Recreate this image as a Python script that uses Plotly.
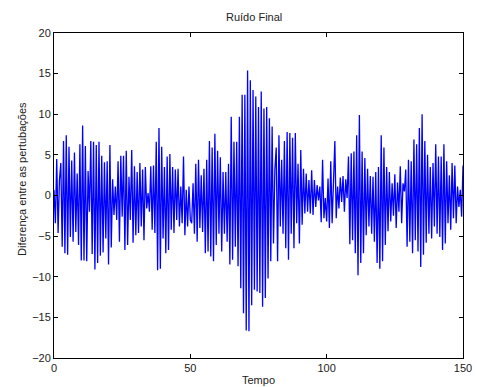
import numpy as np
import plotly.graph_objects as go

# Sampled noise difference, step 0.5 in "Tempo" (t = 0 ... 150)
dt = 0.5
seg_000_025 = [0.7, -3.4, 4.5, -4.6, 1.9, 4.0, -6.3, 6.7, -7.1, 7.4,
               -7.3, 6.0, -5.1, 4.3, -5.7, 5.3, -4.5, 2.7, -6.1, 6.3,
               -8.0, 8.6, -8.0, 6.1, -8.1, 3.0, -2.0, 6.7, -7.2, 6.6,
               -9.1, 6.2, -8.3, 6.6, -7.4, 4.9, -7.0, 4.1, -5.3, 4.2,
               -8.5, 6.2, -6.4, 2.0, -2.4, 1.1, -3.0, 4.2, -5.7, 4.9, -2.6]
seg_025_050 = [4.9, -6.7, 5.5, -6.1, 2.3, -3.0, 5.6, -5.8, 3.6, -4.9,
               2.9, -4.6, 4.0, -3.8, 3.2, -5.5, 3.5, -1.6, 0.3, -2.0,
               3.6, -4.2, 3.7, -4.6, 6.6, -9.2, 8.3, -9.0, 6.0, -5.3,
               3.5, -7.1, 4.8, -6.7, 5.1, -4.2, 3.5, -4.6, 3.2, -3.0,
               3.3, -3.8, 1.1, -3.4, 4.8, -4.9, 0.7, -3.8, 1.1, -3.0]
seg_050_075 = [-3.4, 1.5, -4.7, 3.9, -5.7, 4.4, -4.0, 2.5, -4.5, 3.3,
               -7.1, 4.4, -6.9, 6.7, -7.5, 5.9, -8.1, 7.6, -6.1, 5.5,
               -4.7, 4.7, -6.9, 2.9, -4.7, 2.9, -5.7, 3.9, -8.5, 9.7,
               -7.9, 6.6, -6.3, 6.6, -8.7, 9.7, -11.4, 12.4, -14.5, 12.4,
               -16.6, 15.4, -16.7, 14.2, -13.5, 13.0, -11.6, 12.2, -11.8, 10.9]
seg_075_100 = [-12.0, 12.8, -13.7, 10.7, -12.6, 10.9, -10.2, 9.5, -8.1, 8.5,
               -5.9, 3.1, 5.9, -8.1, 7.4, -3.8, 4.4, -4.7, 6.7, -6.5,
               7.8, -7.9, 7.7, -4.7, 7.1, -6.5, 7.7, -3.4, 3.9, -5.9,
               5.6, -3.6, 3.3, -2.2, 2.7, -2.0, 1.9, -2.2, 3.1, -2.4,
               1.9, -1.4, 1.3, -0.6, 1.1, -3.3, 4.4, -2.8, -0.3, -3.2]
seg_100_125 = [2.1, -4.0, 4.2, -3.4, 2.5, 6.7, -2.8, 1.1, -1.6, 2.2,
               -0.8, 2.4, -2.0, 2.0, -0.3, 4.8, -6.0, 5.2, -5.5, 5.4,
               -7.1, 7.4, -9.8, 9.9, -8.3, 5.4, -7.1, 4.6, -4.9, 3.3,
               -3.8, 2.4, -4.7, 2.3, -5.7, 2.9, -8.3, 3.5, -9.0, 7.4,
               -8.1, 5.9, -6.1, 3.5, -4.4, 2.9, -3.2, 1.5, -2.5, 2.6]
seg_125_150 = [-4.0, 1.6, -2.0, 3.6, -3.4, 1.5, 0.5, 3.2, -6.3, 4.4,
               -5.7, 4.2, -7.1, 6.9, -5.5, 6.3, -6.9, 8.3, -8.8, 10.0,
               -7.3, 6.7, -5.8, 5.0, -4.7, 3.5, -5.3, 4.0, -3.8, 6.3,
               -4.7, 4.8, -5.1, 4.8, -6.7, 6.3, -5.9, 4.2, -3.4, 2.5,
               -4.2, 4.0, -2.8, 3.7, -3.4, 1.1, -1.4, 0.7, -2.6, 3.7]

ruido = (seg_000_025 + seg_025_050 + seg_050_075 +
         seg_075_100 + seg_100_125 + seg_125_150)
tempo = np.arange(len(ruido)) * dt

x_ticks = [0, 50, 100, 150]
y_ticks = [-20, -15, -10, -5, 0, 5, 10, 15, 20]

fig = go.Figure()
fig.add_trace(go.Scatter(x=tempo, y=ruido, mode="lines",
                         line=dict(color="#0000FF", width=1.3),
                         showlegend=False))

axis_common = dict(showgrid=False, zeroline=False, showline=True,
                   linecolor="black", linewidth=1, mirror="ticks",
                   ticks="inside", ticklen=4, tickcolor="black",
                   automargin=False,
                   tickfont=dict(family="Liberation Sans, Arial", size=11, color="#222"))

fig.update_xaxes(range=[0, 150], tickvals=x_ticks, **axis_common)
fig.update_yaxes(range=[-20, 20], tickvals=y_ticks, **axis_common)

fig.update_layout(
    width=477, height=387, autosize=False,
    margin=dict(l=54, r=14, t=33, b=29, autoexpand=False),
    paper_bgcolor="white", plot_bgcolor="white",
    font=dict(family="Liberation Sans, Arial", size=11, color="#222"),
    annotations=[
        dict(text="Ruído Final", x=0.489, y=1, xref="paper", yref="paper",
             yshift=16, showarrow=False, xanchor="center", yanchor="middle",
             font=dict(size=11)),
        dict(text="Tempo", x=0.499, y=0, xref="paper", yref="paper",
             yshift=-22, showarrow=False, xanchor="center", yanchor="middle",
             font=dict(size=11)),
        dict(text="Diferença entre as pertubações", x=0, y=0.551,
             xref="paper", yref="paper", xshift=-32, showarrow=False,
             textangle=-90, xanchor="center", yanchor="middle",
             font=dict(size=11)),
    ],
)

fig.write_html("out.html")
